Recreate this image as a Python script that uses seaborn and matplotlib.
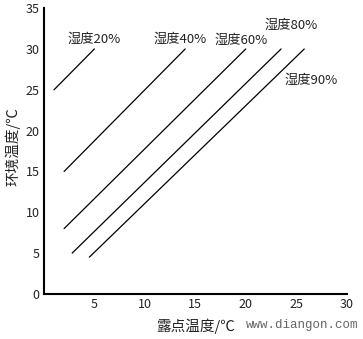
import matplotlib
matplotlib.use("Agg")
import matplotlib.pyplot as plt
import seaborn as sns
import pandas as pd

# Data
humidity = ["湿度20%", "湿度40%", "湿度60%", "湿度80%", "湿度90%"]
dew_start = [1.0, 2.0, 2.0, 2.8, 4.5]
dew_end = [5.0, 14.0, 20.0, 23.5, 25.8]
amb_start = [25.0, 15.0, 8.0, 5.0, 4.5]
amb_end = [30.0, 30.0, 30.0, 30.0, 30.0]
label_x = [5.0, 13.5, 19.5, 24.5, 26.5]
label_y = [31.2, 31.2, 31.1, 32.9, 26.2]
x_ticks = [5, 10, 15, 20, 25, 30]
y_ticks = [0, 5, 10, 15, 20, 25, 30, 35]

rows = []
for h, x0, x1, y0, y1 in zip(humidity, dew_start, dew_end, amb_start, amb_end):
    rows.append({"humidity": h, "dew": x0, "amb": y0})
    rows.append({"humidity": h, "dew": x1, "amb": y1})
df = pd.DataFrame(rows)

sns.set_style("white")
plt.rcParams['font.family'] = ['Noto Sans CJK SC', 'DejaVu Sans']

fig = plt.figure(figsize=(3.63, 3.39), dpi=100)
ax = fig.add_axes([0.121, 0.133, 0.834, 0.843])

sns.lineplot(data=df, x="dew", y="amb", hue="humidity",
             palette=["black"] * len(humidity), linewidth=0.9,
             legend=False, ax=ax, sort=False, estimator=None)

for h, lx, ly in zip(humidity, label_x, label_y):
    ax.text(lx, ly, h, ha="center", va="center", fontsize=9.5, color="#222222")

ax.set_xlim(0, 30)
ax.set_ylim(0, 35)
ax.set_xticks(x_ticks)
ax.set_yticks(y_ticks)
ax.tick_params(direction="in", length=4, width=1.2, labelsize=9,
               colors="#222222", pad=3)
for s in ["top", "right"]:
    ax.spines[s].set_visible(False)
for s in ["left", "bottom"]:
    ax.spines[s].set_color("black")
    ax.spines[s].set_linewidth(1.5)

ax.set_xlabel("露点温度/℃", fontsize=10.5, color="#222222", labelpad=3)
ax.xaxis.set_label_coords(0.5, -0.085)
ax.set_ylabel("环境温度/℃", fontsize=10.5, color="#222222")
ax.yaxis.set_label_coords(-0.076, 0.517)

fig.text(246 / 363, 1 - 325 / 339, "www.diangon.com", fontsize=9,
         color="#666666", family="Liberation Mono", ha="left", va="center")

fig.savefig("out.png", dpi=100, facecolor="white")
